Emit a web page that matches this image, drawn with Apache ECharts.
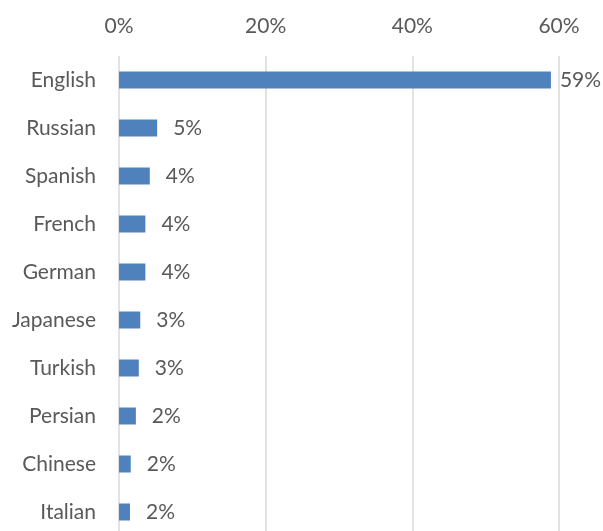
<!DOCTYPE html>
<html>
<head>
<meta charset="utf-8">
<script src="https://cdn.jsdelivr.net/npm/echarts@6/dist/echarts.min.js"></script>
<style>
  html, body { margin: 0; padding: 0; background: #fff; overflow: hidden; }
  #chart { width: 603px; height: 545px; }
</style>
</head>
<body>
<div id="chart"></div>
<script>
// languages top to bottom, share of websites in %
const languages = ['English', 'Russian', 'Spanish', 'French', 'German', 'Japanese', 'Turkish', 'Persian', 'Chinese', 'Italian']
const shares = [58.9, 5.2, 4.2, 3.6, 3.6, 2.9, 2.7, 2.3, 1.6, 1.5]
const ticks = [0, 20, 40, 60]

const font = 'Lato, "Open Sans", sans-serif'
const textColor = '#595959'

// chart div is a bit taller than the window so the last band runs off the bottom like the original
const chart = echarts.init(document.getElementById('chart'))
chart.setOption({
  animation: false,
  grid: {
    left: 119,
    right: 44,
    top: 56,
    height: 480
  },
  xAxis: {
    type: 'value',
    position: 'top',
    min: ticks[0],
    max: ticks[ticks.length - 1],
    interval: ticks[1] - ticks[0],
    axisLine: { show: false },
    axisTick: { show: false },
    axisLabel: {
      formatter: '{value}%',
      color: textColor,
      fontFamily: font,
      fontSize: 21,
      margin: 19
    },
    splitLine: { lineStyle: { color: '#d9d9d9', width: 1.5 } }
  },
  yAxis: {
    type: 'category',
    inverse: true,
    data: languages,
    axisLine: { show: false },
    axisTick: { show: false },
    axisLabel: {
      color: textColor,
      fontFamily: font,
      fontSize: 21,
      margin: 23
    }
  },
  series: [{
    type: 'bar',
    barWidth: 17,
    data: shares.map((v, i) => i === 0 ? { value: v, label: { distance: 9 } } : v),
    itemStyle: { color: '#4f81bd' },
    label: {
      show: true,
      position: 'right',
      distance: 16,
      color: textColor,
      fontFamily: font,
      fontSize: 21,
      formatter: p => Math.round(p.value) + '%'
    }
  }]
})
</script>
</body>
</html>
